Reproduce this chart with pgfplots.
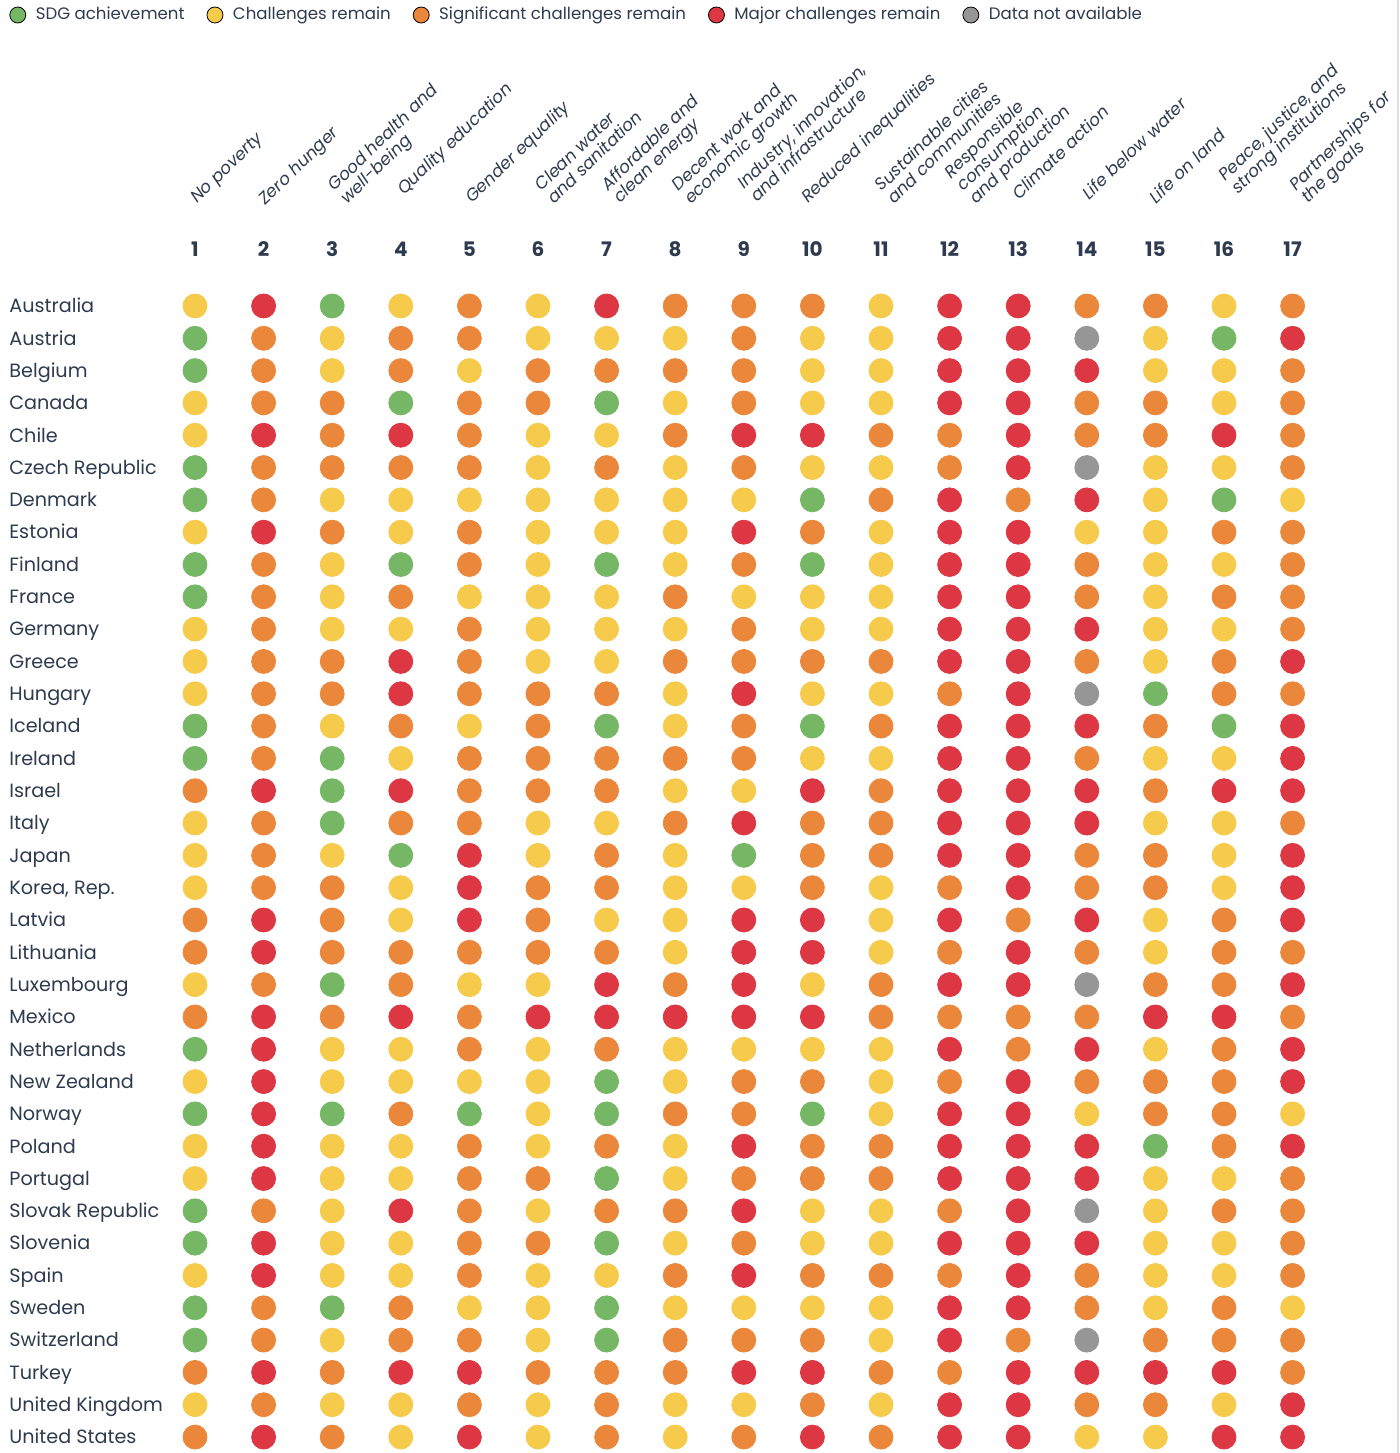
\documentclass[border=0pt]{standalone}
\usepackage{pgfplots}
\pgfplotsset{compat=1.18}
\usepackage{pgfplotstable}
\usepackage{fontspec}
\setmainfont{Poppins}
\definecolor{sdgG}{RGB}{118,183,101}
\definecolor{sdgY}{RGB}{246,202,74}
\definecolor{sdgO}{RGB}{235,135,59}
\definecolor{sdgR}{RGB}{220,55,66}
\definecolor{sdgN}{RGB}{150,150,150}
\definecolor{txt}{RGB}{46,59,78}

% r = row (36 = Australia at the top, 1 = United States at the bottom)
% G = SDG achievement, Y = challenges remain, O = significant challenges remain,
% R = major challenges remain, N = data not available
\pgfplotstableread{
r  g1 g2 g3 g4 g5 g6 g7 g8 g9 g10 g11 g12 g13 g14 g15 g16 g17
36 Y  R  G  Y  O  Y  R  O  O  O   Y   R   R   O   O   Y   O
35 G  O  Y  O  O  Y  Y  Y  O  Y   Y   R   R   N   Y   G   R
34 G  O  Y  O  Y  O  O  O  O  Y   Y   R   R   R   Y   Y   O
33 Y  O  O  G  O  O  G  Y  O  Y   Y   R   R   O   O   Y   O
32 Y  R  O  R  O  Y  Y  O  R  R   O   O   R   O   O   R   O
31 G  O  O  O  O  Y  O  Y  O  Y   Y   O   R   N   Y   Y   O
30 G  O  Y  Y  Y  Y  Y  Y  Y  G   O   R   O   R   Y   G   Y
29 Y  R  O  Y  O  Y  Y  Y  R  O   Y   R   R   Y   Y   O   O
28 G  O  Y  G  O  Y  G  Y  O  G   Y   R   R   O   Y   Y   O
27 G  O  Y  O  Y  Y  Y  O  Y  Y   Y   R   R   O   Y   O   O
26 Y  O  Y  Y  O  Y  Y  Y  O  Y   Y   R   R   R   Y   Y   O
25 Y  O  O  R  O  Y  Y  O  O  O   O   R   R   O   Y   O   R
24 Y  O  O  R  O  O  O  Y  R  Y   Y   O   R   N   G   O   O
23 G  O  Y  O  Y  O  G  Y  O  G   O   R   R   R   O   G   R
22 G  O  G  Y  O  O  O  O  O  Y   Y   R   R   O   Y   Y   R
21 O  R  G  R  O  O  O  Y  Y  R   O   R   R   R   O   R   R
20 Y  O  G  O  O  Y  Y  O  R  O   O   R   R   R   Y   Y   O
19 Y  O  Y  G  R  Y  O  Y  G  O   O   R   R   O   O   Y   R
18 Y  O  O  Y  R  O  O  Y  Y  O   Y   O   R   O   O   Y   R
17 O  R  O  Y  R  O  Y  Y  R  R   Y   R   O   R   Y   O   R
16 O  R  O  O  O  O  O  Y  R  R   Y   O   R   O   Y   O   O
15 Y  O  G  O  Y  Y  R  O  R  Y   O   R   R   N   O   O   R
14 O  R  O  R  O  R  R  R  R  R   O   O   O   O   R   R   O
13 G  R  Y  Y  O  Y  O  Y  Y  Y   Y   R   O   R   Y   O   R
12 Y  R  Y  Y  Y  Y  G  Y  O  O   Y   O   R   O   O   O   R
11 G  R  G  O  G  Y  G  O  O  G   Y   R   R   Y   O   O   Y
10 Y  R  Y  Y  O  Y  O  Y  R  O   O   R   R   R   G   O   R
9  Y  R  Y  Y  O  O  G  Y  O  O   O   R   R   R   Y   Y   O
8  G  O  Y  R  O  Y  O  O  R  Y   Y   O   R   N   Y   O   O
7  G  R  Y  Y  O  O  G  Y  O  Y   Y   R   R   R   Y   Y   O
6  Y  R  Y  Y  O  Y  Y  O  R  O   O   O   R   O   Y   Y   O
5  G  O  G  O  Y  Y  G  Y  Y  Y   Y   R   R   O   Y   O   Y
4  G  O  Y  O  O  Y  G  O  O  O   Y   R   O   N   O   O   O
3  O  R  O  R  R  O  O  O  R  R   O   O   R   R   R   R   O
2  Y  O  Y  Y  O  Y  O  Y  Y  O   Y   R   R   O   O   Y   R
1  O  R  O  Y  R  Y  O  Y  O  R   O   R   R   Y   Y   R   R
}\sdgdata

\pgfplotsset{sdgdots/.style={scatter, only marks, forget plot, mark size=6pt,
  point meta=explicit symbolic,
  scatter/classes={
    G={mark=*, draw=sdgG, fill=sdgG},
    Y={mark=*, draw=sdgY, fill=sdgY},
    O={mark=*, draw=sdgO, fill=sdgO},
    R={mark=*, draw=sdgR, fill=sdgR},
    N={mark=*, draw=sdgN, fill=sdgN}}}}

\newcommand{\goalfont}{\itshape\fontsize{8.5}{8.2}\selectfont}
\newcommand{\goal}[3]{\node[rotate=44, anchor=base west, inner sep=0pt, font=\goalfont, text=txt]
  at (#1*0.5pt+1.5pt, -#2*0.5pt-1pt) {\begin{tabular}[b]{@{}l@{}}#3\end{tabular}};}

\begin{document}
\begin{tikzpicture}
\path[use as bounding box] (0pt,0pt) rectangle (700pt,-726.5pt);
\draw[black!12, line width=0.6pt] (699pt,0pt) -- (699pt,-726.5pt);
\begin{axis}[
  at={(80.35pt,-144.9pt)}, anchor=north west,
  scale only axis, width=583.1pt, height=581.7pt,
  xmin=0.5, xmax=17.5, ymin=0.5, ymax=36.5,
  axis line style={draw=none},
  major tick length=0pt,
  clip=false,
  xtick={1,...,17},
  xticklabels={1,2,3,4,5,6,7,8,9,10,11,12,13,14,15,16,17},
  xticklabel pos=upper,
  xticklabel style={anchor=base, yshift=16.9pt, font=\bfseries\fontsize{10}{12}\selectfont, text=txt},
  ytick={1,...,36},
  yticklabels={United States, United Kingdom, Turkey, Switzerland, Sweden, Spain,
    Slovenia, Slovak Republic, Portugal, Poland, Norway, New Zealand, Netherlands,
    Mexico, Luxembourg, Lithuania, Latvia, {Korea, Rep.}, Japan, Italy, Israel,
    Ireland, Iceland, Hungary, Greece, Germany, France, Finland, Estonia, Denmark,
    Czech Republic, Chile, Canada, Belgium, Austria, Australia},
  yticklabel style={anchor=base west, inner sep=0pt, xshift=-75.85pt, yshift=-3.4pt,
    font=\fontsize{9.6}{11}\selectfont, text=txt},
  legend image code/.code={\fill[#1] (0pt,0pt) circle (4pt); \path (6.8pt,0pt);},
  legend style={at={(axis description cs:-0.1301,1.2362)}, anchor=west, draw=none, fill=none,
    inner sep=0pt, font=\fontsize{8.3}{10}\selectfont, text=txt, legend columns=-1,
    /tikz/every even column/.append style={column sep=9pt}, cells={anchor=west}},
]
\addlegendimage{fill=sdgG}\addlegendentry{SDG achievement}
\addlegendimage{fill=sdgY}\addlegendentry{Challenges remain}
\addlegendimage{fill=sdgO}\addlegendentry{Significant challenges remain}
\addlegendimage{fill=sdgR}\addlegendentry{Major challenges remain}
\addlegendimage{fill=sdgN}\addlegendentry{Data not available}
\pgfplotsinvokeforeach{1,...,17}{
  \addplot[sdgdots] table[x expr=#1, y=r, meta=g#1] {\sdgdata};
}
\end{axis}
\goal{194}{202}{No poverty}
\goal{262}{204}{Zero hunger}
\goal{344}{203}{Good health and\\well-being}
\goal{401}{194}{Quality education}
\goal{469}{202}{Gender equality}
\goal{551}{203}{Clean water\\and sanitation}
\goal{617}{202}{Affordable and\\clean energy}
\goal{688}{203}{Decent work and\\economic growth}
\goal{754}{201}{Industry, innovation,\\and infrastructure}
\goal{805}{202}{Reduced inequalities}
\goal{891}{203}{Sustainable cities\\and communities}
\goal{973}{203}{Responsible\\consumption\\and production}
\goal{1016}{199}{Climate action}
\goal{1086}{199}{Life below water}
\goal{1153}{203}{Life on land}
\goal{1235}{193}{Peace, justice, and\\strong institutions}
\goal{1305}{202}{Partnerships for\\the goals}
\end{tikzpicture}
\end{document}
